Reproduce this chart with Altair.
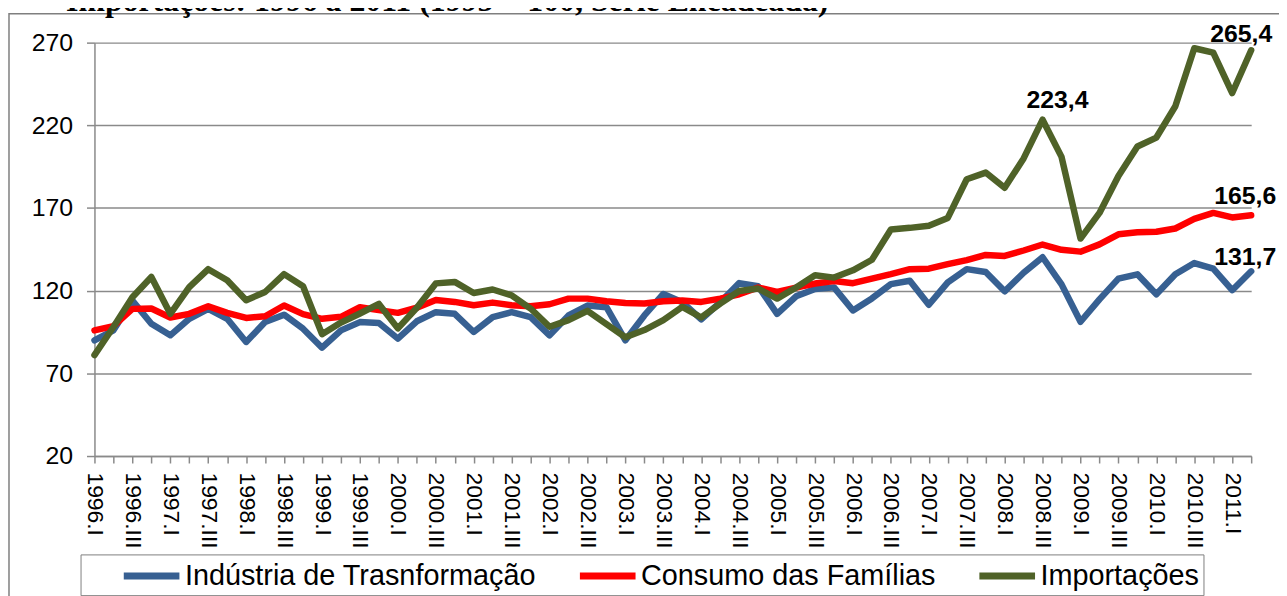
import altair as alt
import pandas as pd

# ---------------- data ----------------
years = list(range(1996, 2012))
roman = ["I", "II", "III", "IV"]
quarters = [f"{y}.{r}" for y in years for r in roman][:62]

industria = [90, 96, 114, 100, 93, 103, 109, 103, 89, 101,
             105.5, 97, 85.5, 96, 101, 100.5, 91, 101.5, 107, 106,
             95, 104, 107, 104, 93, 105, 111, 110, 90, 105,
             118, 113, 102.6, 113, 124.6, 122.7, 106, 116.6, 121, 122,
             108, 115.3, 124, 126, 111.5, 125, 133, 131.3, 119.6, 130.8,
             140.2, 123.8, 101.2, 114.7, 127.3, 129.9, 117.8, 129.9, 136.7, 133.3,
             120.3, 131.7]

consumo = [96, 98.6, 109, 109.2, 103.8, 106, 110.6, 106.6, 103.5, 104.5,
           111, 105.8, 103, 104.2, 110, 108.2, 106.6, 109.7, 114.4, 113.2,
           111.2, 112.8, 111.2, 110.6, 111.8, 115.2, 115.2, 113.6, 112.6, 112.2,
           113.6, 114, 113.2, 115.2, 117.8, 121.9, 119.2, 121.9, 124.3, 125.8,
           124.5, 127.3, 130, 133, 133.3, 136, 138.5, 141.6, 141, 144.3,
           147.9, 144.7, 143.6, 148, 154.1, 155.3, 155.6, 157.6, 163.4, 167,
           164.3, 165.6]

importacoes = [81, 98, 116, 128.3, 106, 122.2, 133, 126.3, 114.2, 119.2,
               130, 122.7, 93.7, 100.7, 106.2, 112, 97.2, 109.7, 124.4, 125.3,
               118.6, 120.7, 117.2, 109.2, 98.2, 102.2, 107.8, 99.8, 91.8, 96.2,
               102.2, 110.2, 103.8, 112.2, 119.8, 121.3, 115.2, 121.9, 129.3, 127.9,
               132.3, 138.7, 157, 158, 159.3, 164, 187.4, 191.4, 182.2, 200,
               223.4, 200.9, 151.5, 167, 189.4, 207.2, 212.6, 231.5, 266.6, 263.9,
               239.5, 265.4]

series_names = ["Indústria de Trasnformação", "Consumo das Famílias", "Importações"]
series_colors = ["#376092", "#FF0000", "#4F6228"]

y_ticks = [20, 70, 120, 170, 220, 270]
title_text = "Importações: 1996 a 2011 (1995 = 100, Série Encadeada)"

# ---------------- table ----------------
wide = pd.DataFrame({
    "quarter": quarters,
    series_names[0]: industria,
    series_names[1]: consumo,
    series_names[2]: importacoes,
})
long = wide.melt(id_vars="quarter", var_name="serie", value_name="valor")

FONT = "Liberation Sans"
GRID = "#8a8a8a"

x_enc = alt.X(
    "quarter:N",
    sort=quarters,
    scale=alt.Scale(type="point", padding=0),
    axis=alt.Axis(
        title=None,
        labelAngle=90,
        labelFont=FONT,
        labelFontSize=23,
        labelColor="black",
        labelPadding=9,
        labelOverlap=False,
        labelBound=False,
        labelExpr="test(/\\.(II|IV)$/, datum.value) ? '' : datum.value",
        tickColor=GRID,
        tickSize=7,
        tickWidth=1.5,
        domainColor=GRID,
        domainWidth=1.5,
        grid=False,
    ),
)
y_enc = alt.Y(
    "valor:Q",
    scale=alt.Scale(domain=[20, 270], nice=False, zero=False),
    axis=alt.Axis(
        title=None,
        values=y_ticks,
        labelFont=FONT,
        labelFontSize=25,
        labelColor="black",
        labelPadding=14,
        tickColor=GRID,
        tickSize=8,
        tickWidth=1.5,
        domainColor=GRID,
        domainWidth=1.5,
        gridColor=GRID,
        gridWidth=1.5,
    ),
)

frame = alt.Chart(pd.DataFrame({"k": [0]})).mark_rect(
    fillOpacity=0, stroke="#7f7f7f", strokeWidth=1.5
).encode(
    x=alt.value(-86), y=alt.value(-29), x2=alt.value(1400), y2=alt.value(900)
)

title = alt.Chart(pd.DataFrame({"t": [title_text]})).mark_text(
    font="Liberation Serif", fontSize=32, fontWeight="bold", color="black",
    align="center", baseline="alphabetic"
).encode(text="t:N", x=alt.value(355), y=alt.value(-32))

lines = alt.Chart(long).mark_line(
    strokeWidth=6.5, strokeJoin="round", strokeCap="round"
).encode(
    x=x_enc,
    y=y_enc,
    color=alt.Color(
        "serie:N",
        sort=series_names,
        scale=alt.Scale(domain=series_names, range=series_colors),
        legend=alt.Legend(
            title=None,
            orient="none",
            legendX=-14,
            legendY=515,
            direction="horizontal",
            symbolType="M-2,0H2",
            symbolStrokeWidth=7,
            symbolSize=784,
            symbolOffset=50,
            labelOffset=16,
            columnPadding=4,
            padding=4,
            labelFont=FONT,
            labelFontSize=29,
            labelColor="black",
            labelLimit=0,
            strokeColor="#7f7f7f",
            fillColor="white",
            labelExpr="datum.label == 'Importações' ? datum.label + '\u00a0\u00a0' : datum.label",
        ),
    ),
    detail="serie:N",
)


def value_label(serie, quarter, dx, dy):
    return alt.Chart(long).transform_filter(
        (alt.datum.serie == serie) & (alt.datum.quarter == quarter)
    ).transform_calculate(
        lab="replace(format(datum.valor, '.1f'), '.', ',')"
    ).mark_text(
        font=FONT, fontSize=25, fontWeight="bold", color="black",
        align="center", baseline="alphabetic", dx=dx, dy=dy
    ).encode(
        x=alt.X("quarter:N", sort=quarters, scale=alt.Scale(type="point", padding=0)),
        y=alt.Y("valor:Q"),
        text="lab:N",
    )


labels = [
    value_label(series_names[2], "2008.III", 15, -12),
    value_label(series_names[2], "2011.II", -10, -8),
    value_label(series_names[1], "2011.II", -6, -11),
    value_label(series_names[0], "2011.II", -6, -6),
]

chart = alt.layer(frame, title, lines, *labels).properties(
    width=1164,
    height=416,
    autosize=alt.AutoSizeParams(type="none"),
    padding={"left": 87, "top": 33, "right": 28, "bottom": 139},
    background="white",
).configure_view(stroke=None)

chart.save("out.html", embed_options={"renderer": "svg", "actions": False})
